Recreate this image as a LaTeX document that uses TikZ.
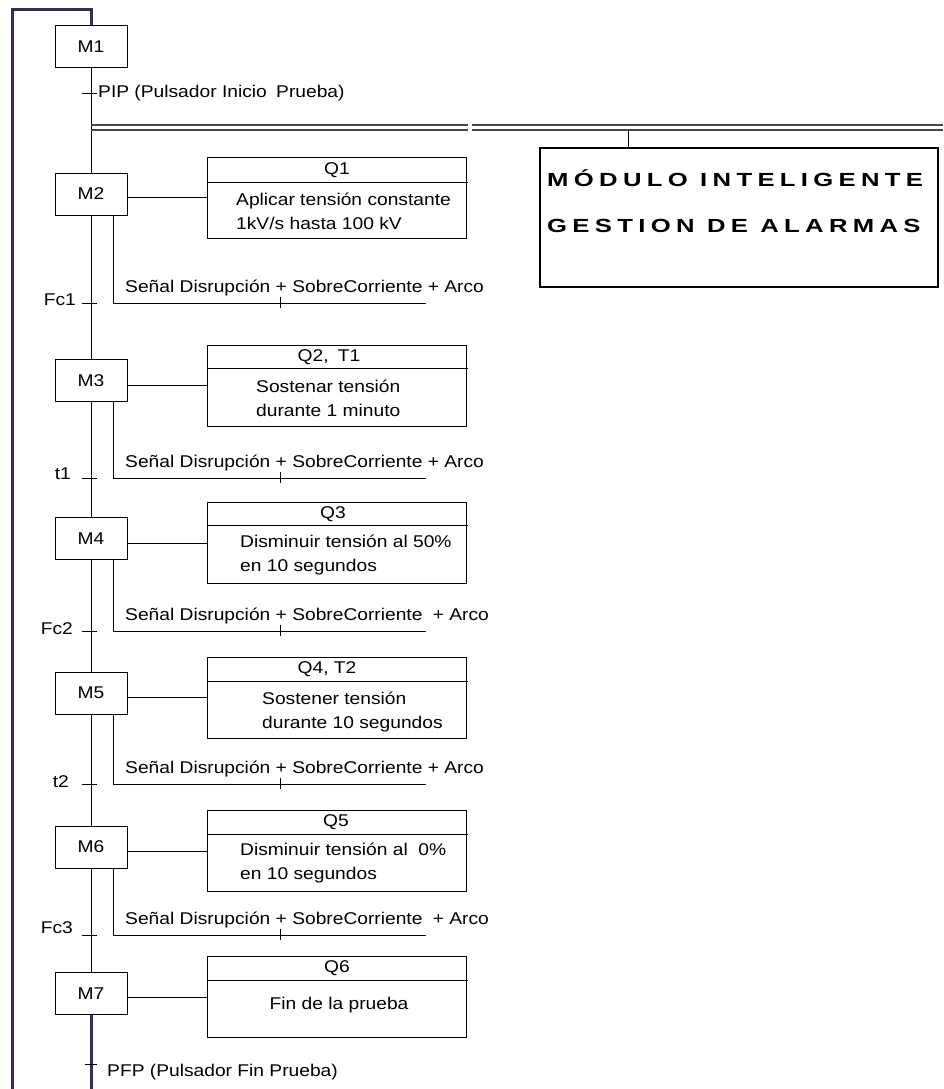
\documentclass[tikz,border=0pt]{standalone}
\usepackage{fontspec}
\setmainfont{Liberation Sans}[FakeStretch=1.13]
\newfontfamily\titlefont{Liberation Sans}[FakeStretch=1.35,LetterSpace=28]
\usetikzlibrary{calc}

\definecolor{lila}{RGB}{58,44,78}
\definecolor{raya}{RGB}{70,70,70}

\tikzset{
    etapa/.style={draw, minimum width=72pt, minimum height=42pt, inner sep=0pt},
    accion/.style={draw, minimum width=259pt, minimum height=81pt, inner sep=0pt},
    txt/.style={inner sep=0pt, anchor=west, align=left},
    cond/.style={inner sep=0pt, anchor=east},
    tope/.style={inner sep=0pt},
    rotulo/.style={txt, font=\titlefont\bfseries\fontsize{19}{24}\selectfont},
}

\begin{document}
\begin{tikzpicture}[x=1pt, y=-1pt, font=\fontsize{17}{24}\selectfont]
    \useasboundingbox (0,0) rectangle (943,1089);
    % etapas
    \foreach[count=\i] \yc in {46.5,194,380.5,538.5,693,847,993.5} {
        \node[etapa] (M\i) at (91,\yc) {M\i};
    }
    \foreach \i/\j/\ty in {1/2/93, 2/3/303, 3/4/478, 4/5/631, 5/6/784, 6/7/935} {
        \draw (M\i.south) -- (M\j.north);
        \draw (82,\ty) -- (97,\ty);
    }
    \node[txt] (pip) at (98,93) {PIP (Pulsador Inicio\hspace{4pt} Prueba)};
    \node[cond] (c1) at (76,300) {Fc1};
    \node[cond] (c2) at (71,474) {t1};
    \node[cond] (c3) at (73,629) {Fc2};
    \node[cond] (c4) at (69,782) {t2};
    \node[cond] (c5) at (73,928) {Fc3};

    % retorno
    \coordinate (fin) at (91,1089);
    \coordinate (esq) at (12,10);
    \draw[lila, line width=3pt] (M7.south) -- (fin);
    \draw[lila, line width=3pt] (12,1089) -- (esq) -- (esq -| M1.north) -- (M1.north);
    \draw (85,1064) -- (97,1064);
    \node[txt] (pfp) at (107,1072) {PFP (Pulsador Fin Prueba)};

    % acciones
    \foreach \i/\yc/\hy in {2/197.5/182, 3/385.5/368, 4/543/525, 5/697.5/681, 6/851/834, 7/997/980} {
        \node[accion] (A\i) at (336.5,\yc) {};
        \draw (A\i.west |- 0,\hy) -- (468,\hy);
        \draw (A\i.west -| M\i.east) -- (A\i.west);
    }
    \node[tope] (h2) at (337,170) {Q1};
    \node[tope] (h3) at (329,357) {Q2,\hspace{4pt} T1};
    \node[tope] (h4) at (333,514) {Q3};
    \node[tope] (h5) at (327,669) {Q4, T2};
    \node[tope] (h6) at (336,822) {Q5};
    \node[tope] (h7) at (337,968) {Q6};
    \node[txt] (b2) at (236,211) {Aplicar tensión constante\\1kV/s hasta 100 kV};
    \node[txt] (b3) at (256,398.5) {Sostenar tensión\\durante 1 minuto};
    \node[txt] (b4) at (240,554.5) {Disminuir tensión al 50\%\\en 10 segundos};
    \node[txt] (b5) at (262,711.5) {Sostener tensión\\durante 10 segundos};
    \node[txt] (b6) at (240,863) {Disminuir tensión al\ \ 0\%\\en 10 segundos};
    \node[tope] (b7) at (339,1005) {Fin de la prueba};

    % alarmas
    \foreach \i/\sy/\gap in {2/303/0pt, 3/478/0pt, 4/631/5pt, 5/784/0pt, 6/935/5pt} {
        \coordinate (s\i) at (113,\sy);
        \coordinate (e\i) at (426,\sy);
        \draw (M\i.south -| s\i) -- (s\i) -- (e\i);
        \draw (280,\sy-6) -- (280,\sy+5);
        \node[txt] (g\i) at (125,\sy-15) {Señal Disrupción + SobreCorriente\hspace{\gap} + Arco};
    }

    % modulo
    \draw[raya, line width=1.3pt] (91,125) -- (468,125) (91,130) -- (468,130);
    \draw[raya, line width=1.3pt] (472,125) -- (943,125) (472,130) -- (943,130);
    \node[draw, line width=2pt, minimum width=398pt, minimum height=139pt, inner sep=0pt]
        (modulo) at (739,217.5) {};
    \coordinate (tk) at (628,130);
    \draw (tk) -- (tk |- modulo.north);
    \node[rotulo] (l1) at (547,178) {MÓDULO INTELIGENTE};
    \node[rotulo] (l2) at (547,226) {GESTION DE ALARMAS};
\end{tikzpicture}
\end{document}
